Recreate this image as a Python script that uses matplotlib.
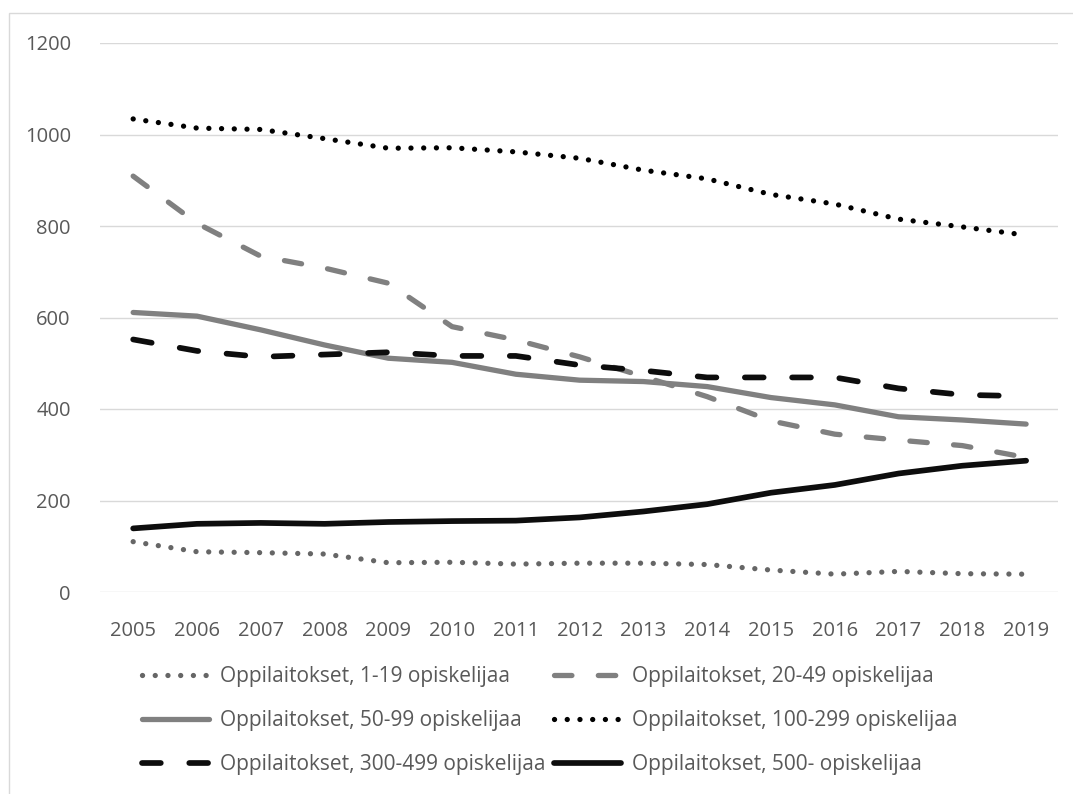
import matplotlib
matplotlib.use("Agg")
from matplotlib import pyplot as plt
from matplotlib.patches import Rectangle

plt.rcParams['font.family'] = ['Open Sans', 'DejaVu Sans']

years = list(range(2005, 2020))

# oppilaitosten lukumäärä kokoluokittain
s_1_19 = [110, 88, 86, 83, 64, 65, 61, 63, 63, 60, 48, 39, 45, 40, 39]
s_20_49 = [909, 806, 734, 708, 675, 580, 551, 514, 471, 427, 374, 345, 332, 320, 294]
s_50_99 = [611, 603, 573, 540, 511, 502, 476, 463, 460, 449, 425, 409, 383, 376, 367]
s_100_299 = [1034, 1014, 1011, 991, 970, 971, 962, 948, 922, 903, 869, 848, 815, 798, 780]
s_300_499 = [552, 527, 514, 519, 524, 516, 516, 496, 484, 469, 469, 469, 445, 431, 428]
s_500 = [139, 149, 151, 149, 153, 155, 156, 163, 176, 192, 217, 234, 259, 276, 287]

labels = ['Oppilaitokset, 1-19 opiskelijaa', 'Oppilaitokset, 20-49 opiskelijaa',
          'Oppilaitokset, 50-99 opiskelijaa', 'Oppilaitokset, 100-299 opiskelijaa',
          'Oppilaitokset, 300-499 opiskelijaa', 'Oppilaitokset, 500- opiskelijaa']

fig = plt.figure(figsize=(10.73, 7.94), dpi=100)
ax = fig.add_axes([100/1073, 1-592/794, 958/1073, 549/794])

lw = 3.8
dot = (0, (0.01, 2.4))
dash = (0, (3.3, 5.0))

l1, = ax.plot(years, s_1_19, color='#666666', lw=lw, linestyle=dot, dash_capstyle='round', label=labels[0])
l2, = ax.plot(years, s_20_49, color='#808080', lw=lw, linestyle=dash, dash_capstyle='round', label=labels[1])
l3, = ax.plot(years, s_50_99, color='#808080', lw=lw, solid_capstyle='round', label=labels[2])
l4, = ax.plot(years, s_100_299, color='#000000', lw=lw, linestyle=dot, dash_capstyle='round', label=labels[3])
l5, = ax.plot(years, s_300_499, color='#0d0d0d', lw=lw + 0.3, linestyle=dash, dash_capstyle='round', label=labels[4])
l6, = ax.plot(years, s_500, color='#0d0d0d', lw=lw + 0.3, solid_capstyle='round', label=labels[5])

ax.set_xlim(2004.48, 2019.5)
ax.set_ylim(0, 1200)
ax.set_xticks(years)
ax.set_yticks(range(0, 1201, 200))
ax.grid(axis='y', color='#d9d9d9', lw=1)
ax.set_axisbelow(True)
for sp in ax.spines.values():
    sp.set_visible(False)
ax.tick_params(length=0, labelsize=14.5, labelcolor='#595959')
ax.tick_params(axis='y', pad=21)
ax.tick_params(axis='x', pad=21)

# rivit vasemmalta oikealle -> sarakejärjestys
order = [l1, l3, l5, l2, l4, l6]
leg = fig.legend(order, [h.get_label() for h in order], loc='upper left',
                 bbox_to_anchor=(142/1073, 1-666/794), ncol=2,
                 frameon=False, fontsize=15, handlelength=3.2, handletextpad=0.55,
                 labelspacing=1.1, columnspacing=0.4, borderpad=0, borderaxespad=0)
for t in leg.get_texts():
    t.set_color('#595959')

fig.patches.append(Rectangle((9/1073, -0.1), 1.2, 1-13/794 + 0.1, transform=fig.transFigure,
                             fill=False, edgecolor='#d9d9d9', lw=1))

plt.savefig('out.png', dpi=100)
